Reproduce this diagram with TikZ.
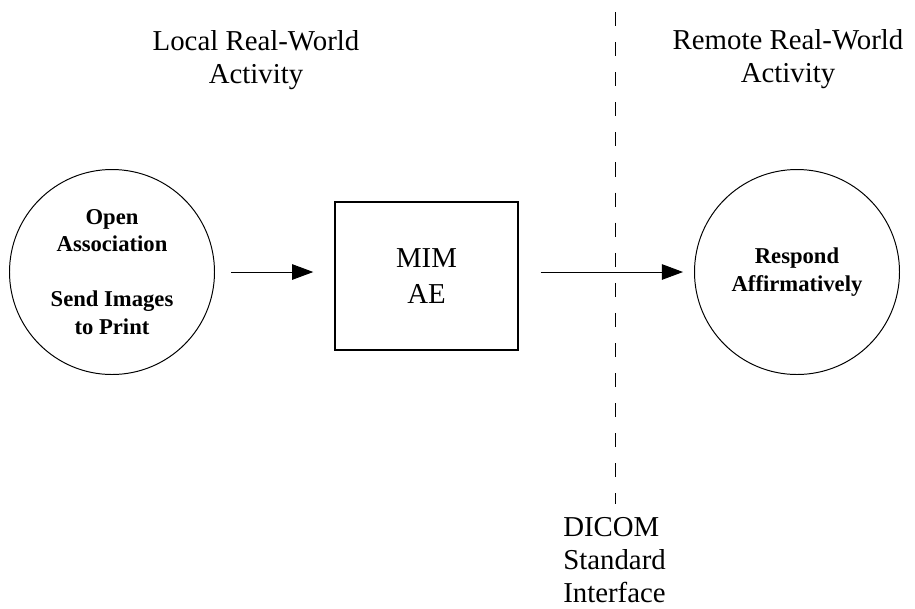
\documentclass[tikz,border=0pt]{standalone}
\usepackage{fontspec}
\setmainfont{Liberation Serif}
\usetikzlibrary{arrows.meta}
\tikzstyle{activity}=[circle, draw=black, line width=0.7pt, minimum size=205*0.025cm, inner sep=0pt, align=center, font=\bfseries\fontsize{16.1}{19.5}\selectfont]
\tikzstyle{entity}=[rectangle, draw=black, line width=0.9pt, minimum width=183*0.025cm, minimum height=148*0.025cm, inner sep=0pt, align=center, font=\fontsize{20.5}{25}\selectfont]
\tikzstyle{annot}=[align=center, inner sep=0pt, font=\fontsize{20.5}{23.5}\selectfont]
\tikzstyle{flow}=[line width=0.7pt, -{Triangle[length=15pt,width=11pt]}]
\tikzstyle{boundary}=[line width=0.7pt, dash pattern=on 10pt off 11.4pt]

\begin{document}
\begin{tikzpicture}[x=0.025cm, y=-0.025cm]
	\useasboundingbox (0,0) rectangle (915,608);

	\node[annot] (localtitle) at (256,60) {Local Real-World\\Activity};
	\node[annot] (remotetitle) at (788,59) {Remote Real-World\\Activity};

	\node[activity] (open) at (112,272) {Open\\Association\\[19.5pt]Send Images\\to Print};
	\node[entity] (mim) at (426.5,276) {MIM\\AE};
	\node[activity] (respond) at (797,272) {Respond\\Affirmatively};

	\coordinate (dtop) at (615,12);
	\coordinate (dbot) at (615,504);
	\draw[boundary] (dtop) -- (dbot);
	\node[annot, align=left, anchor=north west] (dicom) at (563,517) {DICOM\\Standard\\Interface};

	\draw[flow, shorten <=11.4pt, shorten >=15pt] (open.east) -- (open.east -| mim.west);
	\draw[flow, shorten <=15.6pt, shorten >=7.8pt] (open.east -| mim.east) -- (open.east -| respond.west);
	%\draw[flow] (mim) -- (respond);

\end{tikzpicture}
\end{document}
